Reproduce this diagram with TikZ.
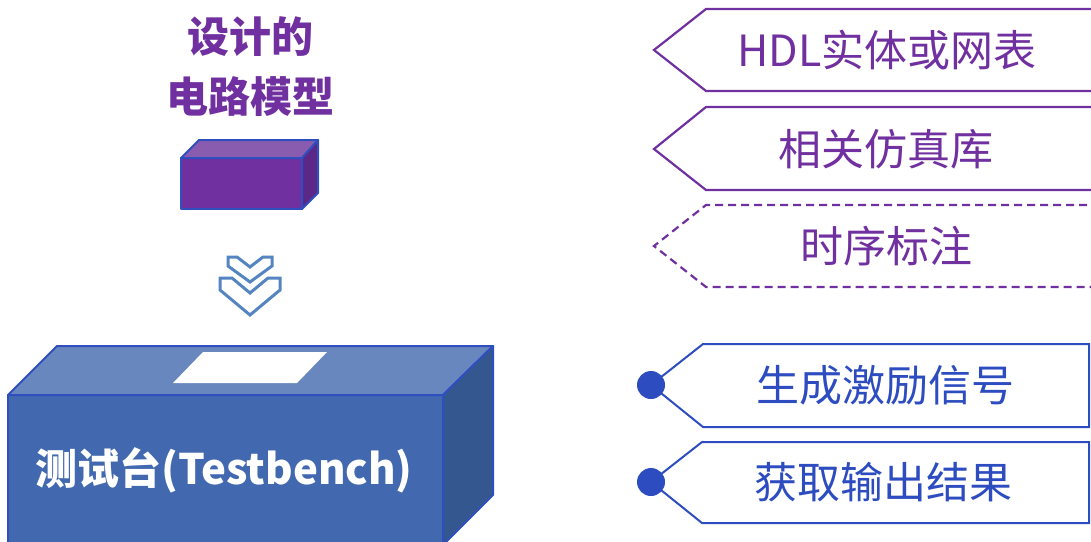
\documentclass[tikz,border=0pt]{standalone}
\usepackage{fontspec}
\newfontfamily\cjk{Noto Sans CJK SC}
\definecolor{ppl}{HTML}{7030A0}
\definecolor{pplTop}{HTML}{8A5CAF}
\definecolor{pplSide}{HTML}{5B2888}
\definecolor{edgeblue}{HTML}{2F4FBF}
\definecolor{tagblue}{HTML}{2D4CC0}
\definecolor{tbFront}{HTML}{4268B0}
\definecolor{tbTop}{HTML}{6787BE}
\definecolor{tbSide}{HTML}{34578F}
\definecolor{chev}{HTML}{5585C0}
\tikzset{
  titletext/.style={font=\cjk\bfseries\fontsize{42}{60}\selectfont, text=ppl, align=center, inner sep=0pt},
  benchtext/.style={font=\cjk\bfseries\fontsize{42}{48}\selectfont, text=white, inner sep=0pt},
  tagtext/.style={font=\cjk\fontsize{43}{48}\selectfont, inner sep=0pt},
  facebox/.style={draw=edgeblue, line width=2pt, line join=round},
  purpletag/.style={draw=ppl, line width=2.2pt},
  bluetag/.style={draw=tagblue, line width=2pt},
  chevshape/.style={draw=chev, line width=3pt, fill=white, line join=miter},
  tagdot/.style={circle, fill=tagblue, minimum size=28pt, inner sep=0pt}
}
\begin{document}
\begin{tikzpicture}[x=1pt,y=-1pt]
\useasboundingbox (0,0) rectangle (1091,541);
\clip (0,0) rectangle (1091,541);

% title
\node[titletext] (title) at (250,67) {设计的\\电路模型};

% small purple box
\filldraw[facebox, fill=ppl] (181,158) rectangle (302,209);
\filldraw[facebox, fill=pplTop] (181,158) -- (199,140) -- (318,140) -- (302,158) -- cycle;
\filldraw[facebox, fill=pplSide] (302,158) -- (318,140) -- (318,193) -- (302,209) -- cycle;

% double chevron
\draw[chevshape] (220,278) -- (232,278) -- (250,293) -- (268,278) -- (280,278) -- (280,290) -- (250,315) -- (220,290) -- cycle;
\draw[chevshape] (228,257) -- (237,257) -- (250,267) -- (263,257) -- (272,257) -- (272,266) -- (250,282) -- (228,266) -- cycle;

% testbench box
\filldraw[facebox, fill=tbFront] (8,395) rectangle (443,560);
\filldraw[facebox, fill=tbTop] (8,395) -- (57,346) -- (493,346) -- (443,395) -- cycle;
\filldraw[facebox, fill=tbSide] (443,395) -- (493,346) -- (493,495) -- (443,545) -- cycle;
\fill[white] (173,383) -- (203,352) -- (327,352) -- (297,383) -- cycle;
\node[benchtext] (bench) at (224,470) {测试台(Testbench)};

% purple tags
\draw[purpletag] (1100,9) -- (706,9) -- (654,50) -- (706,91) -- (1100,91);
\node[tagtext, text=ppl] (t1) at (887,50) {HDL实体或网表};
\draw[purpletag] (1100,107) -- (706,107) -- (654,149) -- (706,190) -- (1100,190);
\node[tagtext, text=ppl] (t2) at (886,149) {相关仿真库};
\draw[purpletag, dash pattern=on 8pt off 5pt] (1100,205) -- (706,205) -- (654,246) -- (706,287) -- (1100,287);
\node[tagtext, text=ppl] (t3) at (886,246) {时序标注};

% blue tags
\draw[bluetag] (1089,344) -- (703,344) -- (651,385) -- (703,427) -- (1089,427) -- cycle;
\node[tagdot] (d1) at (651,385) {};
\node[tagtext, text=tagblue] (t4) at (885,385) {生成激励信号};
\draw[bluetag] (1089,442) -- (702,442) -- (651,482) -- (702,523) -- (1089,523) -- cycle;
\node[tagdot] (d2) at (651,482) {};
\node[tagtext, text=tagblue] (t5) at (883,482) {获取输出结果};
\end{tikzpicture}
\end{document}
